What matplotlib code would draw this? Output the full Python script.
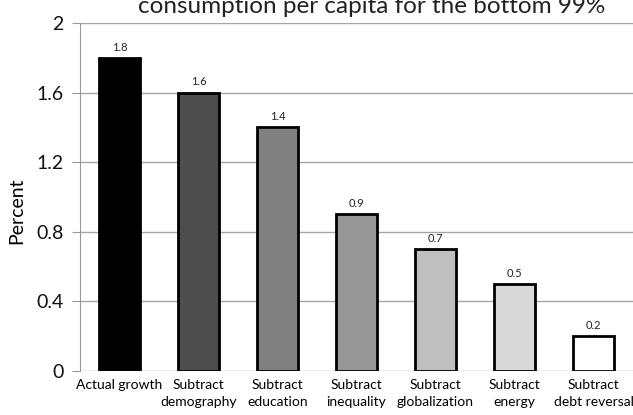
import matplotlib
matplotlib.use("Agg")
import matplotlib.pyplot as plt

# --- Data ---
categories = ["Actual growth", "Subtract\ndemography", "Subtract\neducation",
              "Subtract\ninequality", "Subtract\nglobalization", "Subtract\nenergy",
              "Subtract\ndebt reversal"]
values = [1.8, 1.6, 1.4, 0.9, 0.7, 0.5, 0.2]
bar_colors = ["#000000", "#4d4d4d", "#808080", "#969696", "#bfbfbf", "#d9d9d9", "#ffffff"]
yticks = [0, 0.4, 0.8, 1.2, 1.6, 2]
ytick_labels = ["0", "0.4", "0.8", "1.2", "1.6", "2"]

plt.rcParams['font.family'] = ['Lato', 'DejaVu Sans']

fig = plt.figure(figsize=(6.33, 4.15), dpi=100)
ax = fig.add_axes([80 / 633, 44 / 415, 553 / 633, 348 / 415])

x = range(len(categories))
bars = ax.bar(x, values, width=0.52, color=bar_colors, edgecolor="black",
              linewidth=2, zorder=3)

for xi, v in zip(x, values):
    ax.text(xi, v + 0.03, f"{v:.1f}", ha="center", va="bottom", fontsize=8, color="#222222")

ax.set_xlim(-0.5, len(categories) - 0.5)
ax.set_ylim(0, 2)
ax.set_yticks(yticks)
ax.set_yticklabels(ytick_labels, fontsize=14, color="#111111")
ax.set_xticks(list(x))
ax.set_xticklabels(categories, fontsize=10, linespacing=1.45)
ax.tick_params(axis="x", length=0, pad=6)
ax.tick_params(axis="y", length=6, color="#999999", pad=6)

ax.grid(axis="y", color="#a6a6a6", linewidth=1, zorder=0)
for side in ["top", "right", "bottom"]:
    ax.spines[side].set_visible(False)
ax.spines["left"].set_color("#999999")

ax.set_ylabel("Percent", fontsize=14)
ax.yaxis.set_label_coords(-55 / 553, (371 - 211) / 348)

fig.text(372 / 633, 1 - 13 / 415, "consumption per capita for the bottom 99%",
         ha="center", va="baseline", fontsize=17.5, color="#222222")

fig.savefig("out.png", dpi=100)
